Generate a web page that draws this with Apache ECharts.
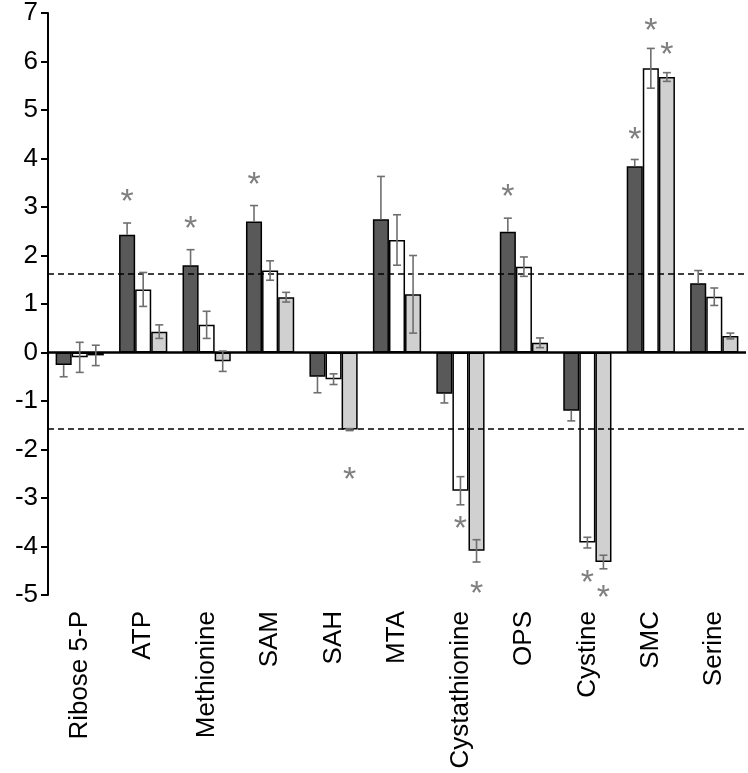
<!DOCTYPE html>
<html>
<head>
<meta charset="utf-8">
<script src="https://cdn.jsdelivr.net/npm/echarts@6/dist/echarts.min.js"></script>
<style>
html,body{margin:0;padding:0;background:#fff;}
#c{width:748px;height:773px;}
</style>
</head>
<body>
<div id="c"></div>
<script>
const categories = ['Ribose 5-P','ATP','Methionine','SAM','SAH','MTA','Cystathionine','OPS','Cystine','SMC','Serine'];
const darkValues  = [-0.26, 2.43, 1.80, 2.70, -0.50, 2.75, -0.85, 2.49, -1.20, 3.84, 1.43];
const darkErrors  = [0.24, 0.24, 0.32, 0.33, 0.33, 0.88, 0.19, 0.28, 0.21, 0.14, 0.26];
const whiteValues = [-0.10, 1.30, 0.57, 1.69, -0.55, 2.32, -2.85, 1.77, -3.92, 5.86, 1.15];
const whiteErrors = [0.31, 0.35, 0.28, 0.20, 0.11, 0.52, 0.29, 0.20, 0.11, 0.41, 0.18];
const grayValues  = [-0.06, 0.43, -0.18, 1.14, -1.59, 1.20, -4.09, 0.20, -4.32, 5.68, 0.34];
const grayErrors  = [0.21, 0.14, 0.21, 0.10, 0.02, 0.80, 0.23, 0.10, 0.14, 0.09, 0.06];
// asterisk levels (value-axis units); null = no asterisk
const darkStars  = [null, 3.28, 2.72, 3.62, null, null, null, 3.37, null, 4.55, null];
const whiteStars = [null, null, null, null, null, null, -3.47, null, -4.57, 6.81, null];
const grayStars  = [null, null, null, null, -2.46, null, -4.81, null, -4.88, 6.31, null];
const thresholds = [1.63, -1.57];
const yTicks = {min: -5, max: 7, interval: 1};

const GAP = 0.24;
const FONT = '"Liberation Sans", Arial, sans-serif';

function barSeries(name, vals, color) {
  return {
    name, type: 'bar', data: vals, barGap: '0%', barCategoryGap: (GAP*100)+'%',
    itemStyle: {color, borderColor: '#000', borderWidth: 1.5},
    z: 2
  };
}
function errSeries(vals, errs, k, outwardOnly) {
  return {
    type: 'custom', z: 5,
    data: vals.map((v, i) => [i, v, errs[i]]),
    renderItem(params, api) {
      const i = api.value(0), v = api.value(1), e = api.value(2);
      const band = api.size([1, 0])[0];
      const bw = band * (1 - GAP) / 3;
      const cx = api.coord([i, 0])[0] + (k - 1) * bw;
      const yt = api.coord([i, v + e])[1];
      const yb = api.coord([i, v - e])[1];
      const ym = api.coord([i, v])[1];
      const st = {stroke: '#6f6f6f', lineWidth: 1.6};
      const cap = 4;
      const kids = [];
      if (outwardOnly) {
        const yo = v >= 0 ? yt : yb;
        kids.push({type: 'line', shape: {x1: cx, y1: ym, x2: cx, y2: yo}, style: st});
        kids.push({type: 'line', shape: {x1: cx - cap, y1: yo, x2: cx + cap, y2: yo}, style: st});
      } else {
        kids.push({type: 'line', shape: {x1: cx, y1: yt, x2: cx, y2: yb}, style: st});
        kids.push({type: 'line', shape: {x1: cx - cap, y1: yt, x2: cx + cap, y2: yt}, style: st});
        kids.push({type: 'line', shape: {x1: cx - cap, y1: yb, x2: cx + cap, y2: yb}, style: st});
      }
      return {type: 'group', children: kids};
    }
  };
}
function starSeries(levels, k) {
  return {
    type: 'custom', z: 6,
    data: levels.map((v, i) => [i, v === null ? '-' : v]),
    renderItem(params, api) {
      const v = api.value(1);
      if (isNaN(v)) return null;
      const i = api.value(0);
      const band = api.size([1, 0])[0];
      const bw = band * (1 - GAP) / 3;
      const cx = api.coord([i, 0])[0] + (k - 1) * bw;
      const cy = api.coord([i, v])[1];
      return {type: 'text', style: {text: '*', x: cx, y: cy + 9, align: 'center', verticalAlign: 'middle',
        fill: '#7f7f7f', font: '34px ' + FONT}};
    }
  };
}

const chart = echarts.init(document.getElementById('c'), null, {renderer: 'canvas'});
chart.setOption({
  animation: false,
  backgroundColor: '#fff',
  grid: {left: 48, right: 2, top: 12, bottom: 178, containLabel: false},
  xAxis: {
    type: 'category', data: categories,
    axisLine: {show: false, onZero: false},
    axisTick: {show: false},
    axisLabel: {rotate: 90, margin: 16, color: '#000', fontSize: 26, fontFamily: FONT, interval: 0}
  },
  yAxis: {
    type: 'value', min: yTicks.min, max: yTicks.max, interval: yTicks.interval,
    axisLine: {show: true, lineStyle: {color: '#000', width: 2}},
    axisTick: {show: true, inside: false, length: 7, lineStyle: {color: '#000', width: 2}},
    axisLabel: {color: '#000', fontSize: 26, fontFamily: FONT, margin: 10},
    splitLine: {show: false}
  },
  series: [
    Object.assign(barSeries('dark', darkValues, '#595959'), {
      markLine: {
        silent: true, symbol: 'none', label: {show: false},
        data: [
          {yAxis: 0, lineStyle: {color: '#000', width: 2.5, type: 'solid'}},
          {yAxis: thresholds[0], lineStyle: {color: '#000', width: 1.5, type: [6, 4]}},
          {yAxis: thresholds[1], lineStyle: {color: '#000', width: 1.5, type: [6, 4]}}
        ]
      }
    }),
    barSeries('white', whiteValues, '#ffffff'),
    barSeries('gray', grayValues, '#d0d0d0'),
    errSeries(darkValues, darkErrors, 0, true),
    errSeries(whiteValues, whiteErrors, 1, false),
    errSeries(grayValues, grayErrors, 2, false),
    starSeries(darkStars, 0),
    starSeries(whiteStars, 1),
    starSeries(grayStars, 2)
  ]
});
</script>
</body>
</html>
